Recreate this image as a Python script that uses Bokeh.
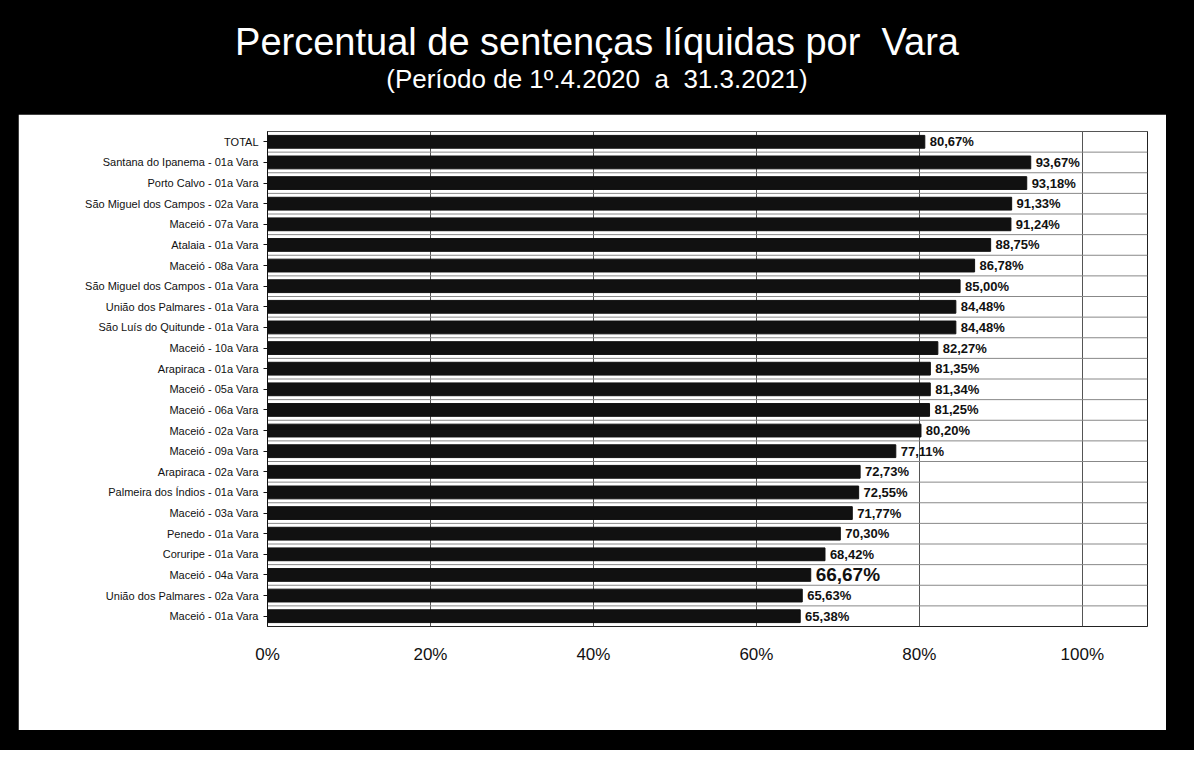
from bokeh.plotting import figure
from bokeh.models import Div, ColumnDataSource, NumeralTickFormatter, FixedTicker, Range1d, FactorRange
from bokeh.layouts import column
from bokeh.transform import dodge
from bokeh.core.properties import value
from bokeh.embed import file_html
from bokeh.resources import INLINE

categories = [
    "TOTAL",
    "Santana do Ipanema - 01a Vara",
    "Porto Calvo - 01a Vara",
    "São Miguel dos Campos - 02a Vara",
    "Maceió - 07a Vara",
    "Atalaia - 01a Vara",
    "Maceió - 08a Vara",
    "São Miguel dos Campos - 01a Vara",
    "União dos Palmares - 01a Vara",
    "São Luís do Quitunde - 01a Vara",
    "Maceió - 10a Vara",
    "Arapiraca - 01a Vara",
    "Maceió - 05a Vara",
    "Maceió - 06a Vara",
    "Maceió - 02a Vara",
    "Maceió - 09a Vara",
    "Arapiraca - 02a Vara",
    "Palmeira dos Índios - 01a Vara",
    "Maceió - 03a Vara",
    "Penedo - 01a Vara",
    "Coruripe - 01a Vara",
    "Maceió - 04a Vara",
    "União dos Palmares - 02a Vara",
    "Maceió - 01a Vara",
]
percent_values = [80.67, 93.67, 93.18, 91.33, 91.24, 88.75, 86.78, 85.00, 84.48, 84.48,
                  82.27, 81.35, 81.34, 81.25, 80.20, 77.11, 72.73, 72.55, 71.77, 70.30,
                  68.42, 66.67, 65.63, 65.38]
tick_values = [0, 0.2, 0.4, 0.6, 0.8, 1.0]

fractions = [v / 100 for v in percent_values]
labels = [("%.2f" % v).replace(".", ",") + "%" for v in percent_values]
sizes = ["19px" if abs(v - 66.67) < 1e-6 else "13px" for v in percent_values]

src = ColumnDataSource(dict(cat=categories, val=fractions, lab=labels, size=sizes))

p = figure(
    y_range=FactorRange(factors=list(reversed(categories))),
    x_range=Range1d(0, 1.08),
    width=1148, height=616,
    output_backend="svg", toolbar_location=None,
    min_border_left=249, min_border_right=19, min_border_top=17, min_border_bottom=104,
    background_fill_color="white", border_fill_color="white",
    outline_line_color="#222",
)

# separators between categories
p.segment(x0=0, x1=1.08,
          y0=dodge("cat", 0.5, range=p.y_range), y1=dodge("cat", 0.5, range=p.y_range),
          source=src, line_color="#888", line_width=1)

p.hbar(y="cat", left=0, right="val", height=0.62, source=src,
       fill_color="#111111", line_color="#111111")

p.text(x=dodge("val", 0.006), y="cat", text="lab", source=src,
       text_baseline="middle", text_align="left",
       text_font_size="size", text_font_style="bold",
       text_color="#111111", text_font=value("Liberation Sans"))

p.xaxis.ticker = FixedTicker(ticks=tick_values)
p.xaxis.formatter = NumeralTickFormatter(format="0%")
p.xaxis.major_label_text_font = "Liberation Sans"
p.xaxis.major_label_text_font_size = "17px"
p.xaxis.major_label_text_color = "#111111"
p.xaxis.axis_line_color = None
p.xaxis.major_tick_line_color = None
p.xaxis.minor_tick_line_color = None
p.xaxis.major_label_standoff = 12

p.yaxis.major_label_text_font = "Liberation Sans"
p.yaxis.major_label_text_font_size = "11px"
p.yaxis.major_label_text_color = "#111111"
p.yaxis.axis_line_color = "#111111"
p.yaxis.major_tick_line_color = "#111111"
p.yaxis.major_tick_out = 4
p.yaxis.major_tick_in = 0

p.xgrid.grid_line_color = "#555555"
p.xgrid.grid_line_width = 1
p.ygrid.grid_line_color = None

title = Div(
    text=('<div style="width:1148px;text-align:center;color:white;font-family:\'Liberation Sans\',Arial,sans-serif;'
          'line-height:1.15;padding-top:16px;">'
          '<div style="font-size:38px;">Percentual de sentenças líquidas por&nbsp; Vara</div>'
          '<div style="font-size:26px;">(Período de 1º.4.2020&nbsp; a&nbsp; 31.3.2021)</div></div>'),
    width=1148, height=104,
    styles={"width": "1148px", "text-align": "center"},
)

layout = column(title, p, styles={"background-color": "black", "padding": "0px 18px 20px 18px"})

open("out.html", "w").write(file_html(layout, INLINE))
